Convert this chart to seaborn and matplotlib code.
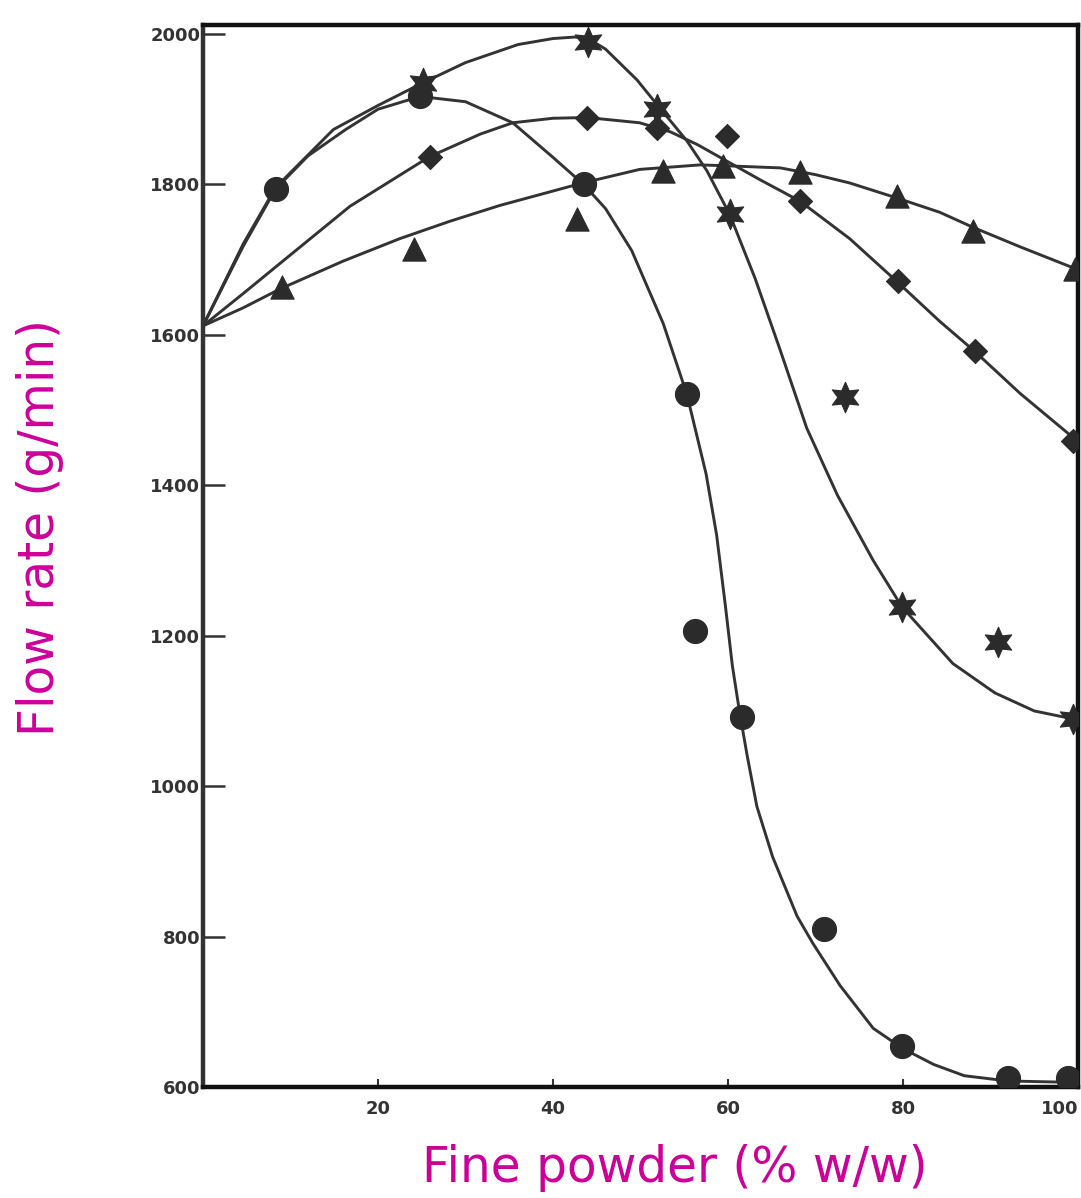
import matplotlib
matplotlib.use("Agg")
import matplotlib.pyplot as plt
import seaborn as sns
import pandas as pd

# ---------------- data ----------------
# measured points (marker positions)
circle_x = [8.3, 24.8, 43.5, 55.3, 56.2, 61.6, 71.0, 79.9, 92.0, 98.9]
circle_y = [1794, 1917, 1800, 1521, 1206, 1092, 810, 655, 612, 612]

star_x = [25.1, 44.0, 51.9, 60.2, 73.4, 79.9, 90.9, 99.4]
star_y = [1935, 1990, 1900, 1761, 1518, 1238, 1191, 1089]

diamond_x = [25.9, 43.9, 51.9, 59.9, 68.2, 79.4, 88.2, 99.4]
diamond_y = [1837, 1889, 1875, 1864, 1778, 1671, 1578, 1459]

triangle_x = [9.0, 24.1, 42.7, 52.6, 59.4, 68.2, 79.3, 88.0, 99.7]
triangle_y = [1664, 1714, 1754, 1818, 1824, 1816, 1784, 1738, 1688]

# hand-drawn fitted curves
circle_curve_x = [0, 4.6, 8.3, 12, 16.3, 20, 24.8, 30, 35.4, 40, 43.5, 46, 49, 52.6,
                  55.3, 57.5, 58.7, 59.7, 60.5, 61.3, 62.2, 63.3, 65.1, 67.9, 69.7,
                  72.8, 76.6, 80, 83.5, 87, 92, 100]
circle_curve_y = [1612, 1718, 1794, 1838, 1873, 1900, 1917, 1910, 1882, 1836, 1800, 1768, 1712, 1615,
                  1521, 1415, 1334, 1240, 1160, 1100, 1040, 973, 906, 827, 791,
                  735, 678, 651, 630, 615, 608, 606]

star_curve_x = [0, 4.6, 8.3, 14.9, 20, 25.1, 30, 36, 40, 42.5, 44, 46, 49.6,
                51.9, 55.3, 57.6, 60.2, 63.1, 65.9, 69, 72.5, 76.6, 79.9, 85.7, 90.5, 95, 100]
star_curve_y = [1612, 1721, 1796, 1873, 1905, 1935, 1962, 1986, 1994, 1996, 1994, 1980, 1939,
                1906, 1858, 1818, 1760, 1675, 1582, 1476, 1387, 1300, 1238, 1163, 1124, 1100, 1088]

diamond_curve_x = [0, 4.6, 8.8, 16.8, 25.9, 31.7, 35.4, 40, 43.9, 49.9, 53.4, 56.5, 59.1,
                   63.7, 68.2, 73.9, 79.3, 84.2, 88.2, 93.4, 99.9]
diamond_curve_y = [1612, 1655, 1695, 1771, 1837, 1867, 1882, 1888, 1889, 1882, 1870, 1853, 1836,
                   1806, 1778, 1728, 1671, 1618, 1578, 1522, 1459]

triangle_curve_x = [0, 4.6, 8.8, 16, 22.5, 28.2, 33.9, 43.4, 49.9, 56.8, 59.4, 66, 70,
                    73.9, 79.3, 84.2, 88, 93.4, 99.7]
triangle_curve_y = [1612, 1636, 1661, 1698, 1728, 1751, 1772, 1802, 1820, 1826, 1825, 1822, 1813,
                    1802, 1782, 1763, 1743, 1717, 1688]

y_ticks = [600, 800, 1000, 1200, 1400, 1600, 1800, 2000]
y_tick_labels = ["600", "800", "1000", "1200", "1400", "1600", "1800", "2000"]
x_ticks = [20, 40, 60, 80, 100]
x_tick_labels = ["20", "40", "60", "80", "100"]

x_label = "Fine powder (% w/w)"
y_label = "Flow rate (g/min)"

# ---------------- drawing ----------------
sns.set_theme(style="white")
plt.rcParams["font.family"] = ["DejaVu Sans"]

fig = plt.figure(figsize=(10.81, 11.98), dpi=100)
ax = fig.add_axes([203 / 1081, 1 - 1087 / 1198, (1078 - 203) / 1081, (1087 - 25) / 1198])

ink = "#2b2b2b"

curves = [
    (circle_curve_x, circle_curve_y),
    (star_curve_x, star_curve_y),
    (diamond_curve_x, diamond_curve_y),
    (triangle_curve_x, triangle_curve_y),
]
for cx, cy in curves:
    df = pd.DataFrame({"x": cx, "y": cy})
    sns.lineplot(data=df, x="x", y="y", ax=ax, color="#333333", linewidth=2.1,
                 sort=False, estimator=None, zorder=2)

markers = [
    (circle_x, circle_y, "o", 300),
    (star_x, star_y, (6, 1, 0), 480),
    (diamond_x, diamond_y, "D", 150),
    (triangle_x, triangle_y, "^", 280),
]
for mx, my, mk, size in markers:
    df = pd.DataFrame({"x": mx, "y": my})
    sns.scatterplot(data=df, x="x", y="y", ax=ax, marker=mk, s=size, color=ink,
                    edgecolor=ink, linewidth=0.8, zorder=3)

ax.set_xlim(0, 100)
ax.set_ylim(606, 2012)

ax.set_xticks(x_ticks)
ax.set_xticklabels(x_tick_labels)
ax.set_yticks(y_ticks)
ax.set_yticklabels(y_tick_labels)

ax.tick_params(axis="y", direction="in", length=16, width=1.8, color="#333333",
               pad=2, labelsize=13, labelcolor="#333333", left=True)
ax.tick_params(axis="x", direction="in", length=6, width=1.5, color="#333333",
               pad=9, labelsize=13, labelcolor="#333333", bottom=True)
for lab in ax.get_xticklabels() + ax.get_yticklabels():
    lab.set_fontweight("bold")
ax.get_xticklabels()[-1].set_horizontalalignment("right")

for side in ["left", "right", "top", "bottom"]:
    ax.spines[side].set_visible(True)
    ax.spines[side].set_color("#111111")
    ax.spines[side].set_linewidth(3.2)
ax.spines["left"].set_color("#333333")

ax.set_xlabel("")
ax.set_ylabel("")
ax.grid(False)

magenta = "#CC0099"
fig.text(675 / 1081, 1 - 1168 / 1198, x_label, color=magenta, fontsize=35,
         ha="center", va="center")
fig.text(40 / 1081, 1 - 527 / 1198, y_label, color=magenta, fontsize=35,
         ha="center", va="center", rotation=90)

fig.savefig("out.png", dpi=100, facecolor="white")
